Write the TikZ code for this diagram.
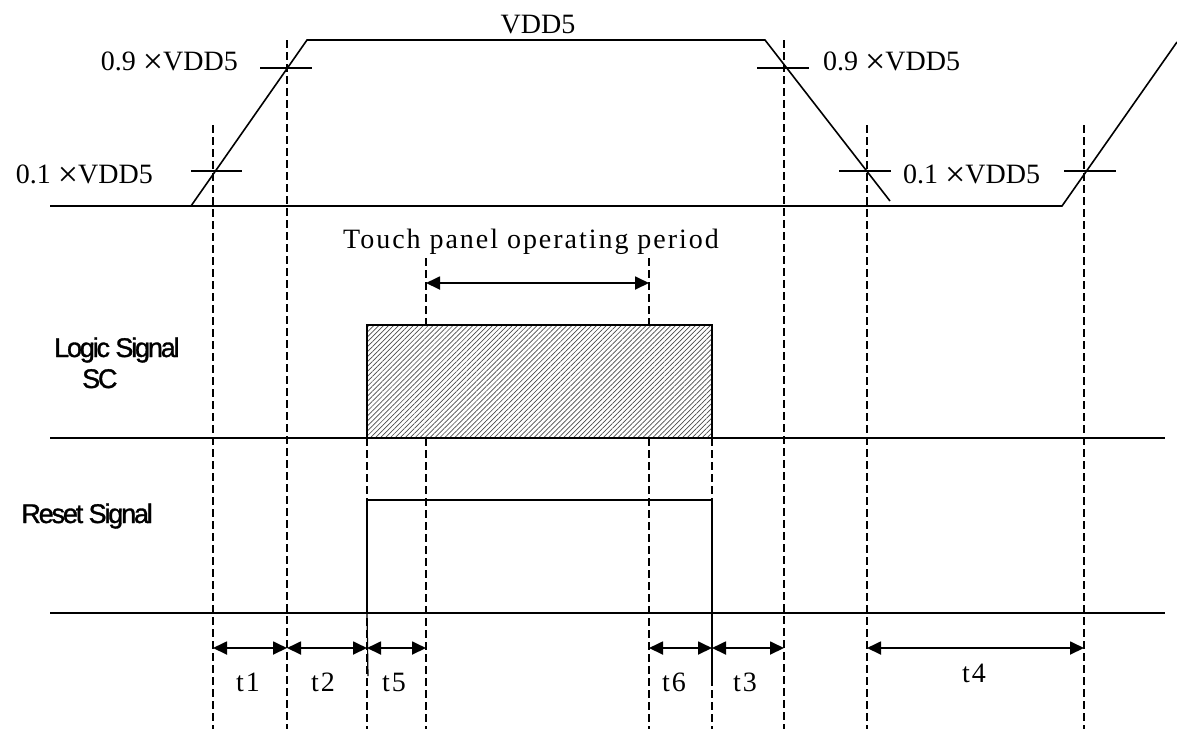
\documentclass[tikz,border=0pt]{standalone}
\usepackage{fontspec}
\setmainfont{Liberation Serif}
\newfontfamily\sigfont[LetterSpace=-8,FakeBold=1.2]{Liberation Sans}
\newfontfamily\spacedfont[LetterSpace=7]{Liberation Serif}
\usetikzlibrary{arrows.meta,patterns.meta}
\newcommand{\bigtimes}{\hspace{0.25em}\raisebox{-3.5pt}{\fontsize{36}{32}\selectfont ×}}

\begin{document}
\begin{tikzpicture}[x=1pt,y=-1pt,line width=1.6pt,
	guide/.style={dash pattern=on 8pt off 4pt,line width=1.5pt},
	dim/.style={{Triangle[length=14pt,width=13pt]}-{Triangle[length=14pt,width=13pt]},line width=1.8pt},
	lvl/.style={font=\fontsize{28}{32}\selectfont},
	sig/.style={font=\sigfont\fontsize{27}{30}\selectfont},
	tlab/.style={font=\spacedfont\fontsize{28}{32}\selectfont,anchor=base}]
		\useasboundingbox (0,0) rectangle (1177,729);
		\foreach \x/\y in {213/125,287/40,426/258,649/258,784/40,867/125,1084/125,367/438,712/438}
			\draw[guide] (\x,\y) -- (\x,729);
		\draw (50,206) -- (1062,206) -- (1177,42);
		\draw (191,206) -- (307,40) -- (765,40) -- (890,201);
		\draw (260,68) -- (312,68);
		\draw (191,171) -- (242,171);
		\draw (757,68) -- (809,68);
		\draw (839,171) -- (891,171);
		\draw (1064,171) -- (1116,171);
		\node[lvl,anchor=base] (vdd) at (538,33) {VDD5};
		\node[lvl,anchor=base east] (hi1) at (242,70) {0.9\bigtimes VDD5};
		\node[lvl,anchor=base east] (lo1) at (157,183) {0.1\bigtimes VDD5};
		\node[lvl,anchor=base west] (hi2) at (819,70) {0.9\bigtimes VDD5};
		\node[lvl,anchor=base west] (lo2) at (899,183) {0.1\bigtimes VDD5};
		\node[tlab] (tp) at (531,248) {Touch panel operating period};
		\coordinate (tpa) at (426,283);
		\coordinate (tpb) at (649,283);
		\draw[dim] (tpa) -- (tpb);
		\draw[line width=2.6pt,fill=white] (367,325) rectangle (712,438);
		\fill[pattern={Lines[angle=45,distance=3.5pt,line width=0.7pt]},pattern color=black!70] (367,325) rectangle (712,438);
		\draw[line width=2.6pt] (367,325) rectangle (712,438);
		\draw (50,438) -- (1165,438);
		\node[sig,anchor=base west] (lg) at (50,357) {Logic Signal};
		\node[sig,anchor=base west] (sc) at (78,388) {SC};
		\draw (50,613) -- (1165,613);
		\draw (367,613) -- (367,500) -- (712,500) -- (712,613);
		\draw[line width=1.2pt] (367,613) -- (368,676);
		\draw[line width=1.2pt] (712,613) -- (712,680);
		\node[sig,anchor=base east] (rs) at (157,523) {Reset Signal};
		\coordinate (m1) at (213,648);
		\coordinate (m2) at (287,648);
		\coordinate (m3) at (367,648);
		\coordinate (m4) at (426,648);
		\coordinate (m5) at (649,648);
		\coordinate (m6) at (712,648);
		\coordinate (m7) at (784,648);
		\coordinate (m8) at (867,648);
		\coordinate (m9) at (1084,648);
		\draw[dim] (m1) -- (m2);
		\draw[dim] (m2) -- (m3);
		\draw[dim] (m3) -- (m4);
		\draw[dim] (m5) -- (m6);
		\draw[dim] (m6) -- (m7);
		\draw[dim] (m8) -- (m9);
		\node[tlab] (t1) at (248,691) {t1};
		\node[tlab] (t2) at (323,691) {t2};
		\node[tlab] (t5) at (394,691) {t5};
		\node[tlab] (t6) at (674,691) {t6};
		\node[tlab] (t3) at (745,691) {t3};
		\node[tlab] (t4) at (974,682) {t4};
\end{tikzpicture}
\end{document}
